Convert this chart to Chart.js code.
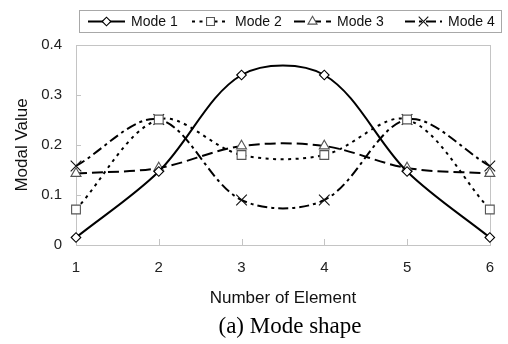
<!DOCTYPE html>
<html>
<head>
<meta charset="utf-8">
<script src="https://cdn.jsdelivr.net/npm/chart.js@4/dist/chart.umd.min.js"></script>
<style>
  html, body { margin: 0; padding: 0; background: #fff; }
  #wrap { width: 508px; height: 344px; position: relative; }
</style>
</head>
<body>
<div id="wrap"><canvas id="c" width="508" height="344"></canvas></div>
<script>
// Element numbers along the beam and modal amplitudes for the first four modes
const elements = [1, 2, 3, 4, 5, 6];
const mode1 = [0.015, 0.147, 0.340, 0.340, 0.147, 0.015];
const mode2 = [0.071, 0.251, 0.180, 0.180, 0.251, 0.071];
const mode3 = [0.143, 0.154, 0.198, 0.198, 0.154, 0.143];
const mode4 = [0.158, 0.251, 0.090, 0.090, 0.251, 0.158];
const seriesNames = ['Mode 1', 'Mode 2', 'Mode 3', 'Mode 4'];
const yTicks = [0, 0.1, 0.2, 0.3, 0.4];
const xTicks = [1, 2, 3, 4, 5, 6];

const SANS = '"Liberation Sans", Arial, Helvetica, sans-serif';
const SERIF = '"Liberation Serif", "Times New Roman", serif';

const toPoints = vals => elements.map((x, i) => ({ x: x, y: vals[i] }));

const styles = [
  { dash: [], point: 'rectRot', r: 4.8, pc: '#000' },
  { dash: [3, 4.5], point: 'rect', r: 6.2, pc: '#555' },
  { dash: [11, 5], point: 'triangle', r: 5.8, pc: '#555' },
  { dash: [10, 4, 3, 4], point: 'crossRot', r: 7.5, pc: '#111' }
];

const datasets = [mode1, mode2, mode3, mode4].map((vals, i) => ({
  label: seriesNames[i],
  data: toPoints(vals),
  borderColor: '#000',
  borderWidth: 2,
  borderDash: styles[i].dash,
  tension: 0.333,
  fill: false,
  clip: false,
  pointStyle: styles[i].point,
  pointRadius: styles[i].r,
  pointHoverRadius: styles[i].r,
  pointBackgroundColor: '#fff',
  pointBorderColor: styles[i].pc,
  pointBorderWidth: 1.1
}));

// Frame, inner tick marks, boxed legend and the caption below the axis
const decorations = {
  id: 'decorations',
  beforeDatasetsDraw(chart) {
    const { ctx, chartArea: a, scales: { x, y } } = chart;
    ctx.save();
    ctx.strokeStyle = '#c4c4c4';
    ctx.lineWidth = 1;
    ctx.strokeRect(Math.round(a.left) + 0.5, Math.round(a.top) + 0.5,
                   Math.round(a.right - a.left), Math.round(a.bottom - a.top));
    ctx.beginPath();
    yTicks.slice(1, -1).forEach(v => {
      const py = Math.round(y.getPixelForValue(v)) + 0.5;
      ctx.moveTo(a.left, py); ctx.lineTo(a.left + 5, py);
    });
    xTicks.slice(1, -1).forEach(v => {
      const px = Math.round(x.getPixelForValue(v)) + 0.5;
      ctx.moveTo(px, a.bottom); ctx.lineTo(px, a.bottom - 6);
    });
    ctx.stroke();
    ctx.restore();
  },
  afterDraw(chart) {
    const { ctx } = chart;
    const H = Chart.helpers;
    ctx.save();
    // legend frame
    const lx = 79, ly = 10, lw = 422, lh = 22;
    ctx.strokeStyle = '#a8a8a8';
    ctx.lineWidth = 1;
    ctx.strokeRect(lx + 0.5, ly + 0.5, lw, lh);
    const cy = ly + lh / 2 + 0.5;
    const starts = [88, 192, 294, 405];
    ctx.textBaseline = 'middle';
    ctx.textAlign = 'left';
    chart.data.datasets.forEach((ds, i) => {
      const sx = starts[i], sw = 37;
      ctx.strokeStyle = '#000';
      ctx.lineWidth = 2;
      ctx.setLineDash(ds.borderDash);
      ctx.beginPath();
      ctx.moveTo(sx, cy); ctx.lineTo(sx + sw, cy);
      ctx.stroke();
      ctx.setLineDash([]);
      ctx.fillStyle = '#fff';
      ctx.strokeStyle = ds.pointBorderColor;
      ctx.lineWidth = ds.pointBorderWidth;
      H.drawPoint(ctx, {
        pointStyle: ds.pointStyle,
        radius: ds.pointRadius * 0.9,
        borderWidth: ds.pointBorderWidth,
        rotation: 0
      }, sx + sw / 2, cy);
      ctx.font = '14px ' + SANS;
      ctx.fillStyle = '#111';
      ctx.fillText(ds.label, sx + sw + 6, cy + 1);
    });
    // caption
    ctx.font = '23px ' + SERIF;
    ctx.fillStyle = '#000';
    ctx.textAlign = 'center';
    ctx.textBaseline = 'alphabetic';
    ctx.fillText('(a) Mode shape', 290, 333);
    ctx.restore();
  }
};

new Chart(document.getElementById('c'), {
  type: 'line',
  data: { datasets: datasets },
  plugins: [decorations],
  options: {
    responsive: false,
    animation: false,
    devicePixelRatio: 1,
    layout: { padding: { left: 0, right: 5, top: 45, bottom: 30 } },
    plugins: { legend: { display: false }, tooltip: { enabled: false }, title: { display: false } },
    scales: {
      x: {
        type: 'linear',
        min: 1, max: 6,
        afterFit: s => { s.height = 69; },
        afterBuildTicks: s => { s.ticks = xTicks.map(v => ({ value: v })); },
        grid: { display: false, drawTicks: false },
        border: { display: false },
        ticks: { padding: 14, color: '#222', font: { family: SANS, size: 15 }, maxRotation: 0 },
        title: { display: true, text: 'Number of Element', color: '#111',
                 font: { family: SANS, size: 17 }, padding: { top: 0, bottom: 5 } }
      },
      y: {
        type: 'linear',
        min: 0, max: 0.4,
        afterFit: s => { s.width = 76; },
        afterBuildTicks: s => { s.ticks = yTicks.map(v => ({ value: v })); },
        grid: { display: false, drawTicks: false },
        border: { display: false },
        ticks: { padding: 14, color: '#222', font: { family: SANS, size: 15 },
                 callback: v => String(Math.round(v * 10) / 10) },
        title: { display: true, text: 'Modal Value', color: '#111',
                 font: { family: SANS, size: 17 }, padding: { top: 12, bottom: 0 } }
      }
    }
  }
});
</script>
</body>
</html>
